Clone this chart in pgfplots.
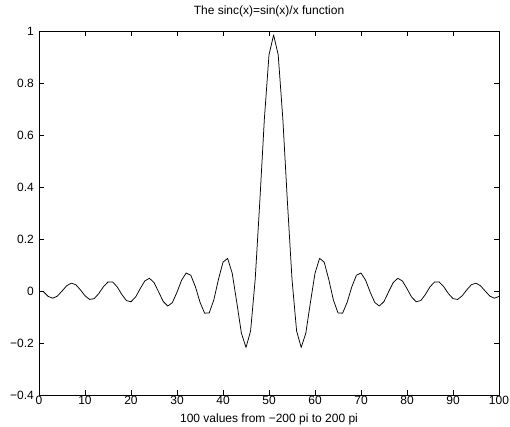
\documentclass[border=0pt]{standalone}
\usepackage{fontspec}
\setmainfont{Liberation Sans}
\usepackage{pgfplots}
\pgfplotsset{compat=1.18}
\pgfplotstableread{
x y
1 -0.0033
2 -0.0209
3 -0.0277
4 -0.0196
5 -0.0003
6 0.0199
7 0.0301
8 0.0242
9 0.0046
10 -0.0184
11 -0.0325
12 -0.0293
13 -0.0098
14 0.0162
15 0.0347
16 0.0350
17 0.0159
18 -0.0132
19 -0.0368
20 -0.0414
21 -0.0233
22 0.0090
23 0.0386
24 0.0489
25 0.0326
26 -0.0033
27 -0.0403
28 -0.0579
29 -0.0444
30 -0.0047
31 0.0417
32 0.0693
33 0.0606
34 0.0163
35 -0.0429
36 -0.0853
37 -0.0845
38 -0.0346
39 0.0439
40 0.1108
41 0.1255
42 0.0683
43 -0.0446
44 -0.1623
45 -0.2172
46 -0.1537
47 0.0450
48 0.3438
49 0.6638
50 0.9084
51 0.9850
52 0.9084
53 0.6638
54 0.3438
55 0.0450
56 -0.1537
57 -0.2172
58 -0.1623
59 -0.0446
60 0.0683
61 0.1255
62 0.1108
63 0.0439
64 -0.0346
65 -0.0845
66 -0.0853
67 -0.0429
68 0.0163
69 0.0606
70 0.0693
71 0.0417
72 -0.0047
73 -0.0444
74 -0.0579
75 -0.0403
76 -0.0033
77 0.0326
78 0.0489
79 0.0386
80 0.0090
81 -0.0233
82 -0.0414
83 -0.0368
84 -0.0132
85 0.0159
86 0.0350
87 0.0347
88 0.0162
89 -0.0098
90 -0.0293
91 -0.0325
92 -0.0184
93 0.0046
94 0.0242
95 0.0301
96 0.0199
97 -0.0003
98 -0.0196
99 -0.0277
100 -0.0209
}\sincdata
\begin{document}
\fontsize{12}{14}\selectfont
\begin{tikzpicture}
\begin{axis}[
  at={(0pt,0pt)}, anchor=south west,
  scale only axis,
  width=460pt, height=364pt,
  xmin=0, xmax=100, ymin=-0.4, ymax=1,
  xtick={0,10,...,100},
  xticklabels={0,10,20,30,40,50,60,70,80,90,100},
  ytick={-0.4,-0.2,0,0.2,0.4,0.6,0.8,1},
  yticklabels={−0.4,−0.2,0,0.2,0.4,0.6,0.8,1},
  tick align=inside,
  major tick length=4.6pt,
  axis line style={line width=0.8pt},
  every tick/.style={black, line width=0.6pt},
  xticklabel style={anchor=base, inner sep=0pt, yshift=-10pt},
  yticklabel style={anchor=east, inner sep=0pt, xshift=-5pt},
  title={The sinc(x)=sin(x)/x function},
  title style={at={(axis description cs:0.5,1)}, anchor=base, inner sep=0pt, yshift=10pt},
  xlabel={100 values from −200 pi to 200 pi},
  every axis x label/.style={at={(axis description cs:0.5,0)}, anchor=base, inner sep=0pt, yshift=-27.3pt},
]
\addplot[black, line width=0.75pt, line join=round, mark=none] table[x=x, y=y] {\sincdata};
\end{axis}
\pgfresetboundingbox
\path[use as bounding box] (-39pt,-32pt) rectangle (471pt,395pt);
\end{tikzpicture}
\end{document}
